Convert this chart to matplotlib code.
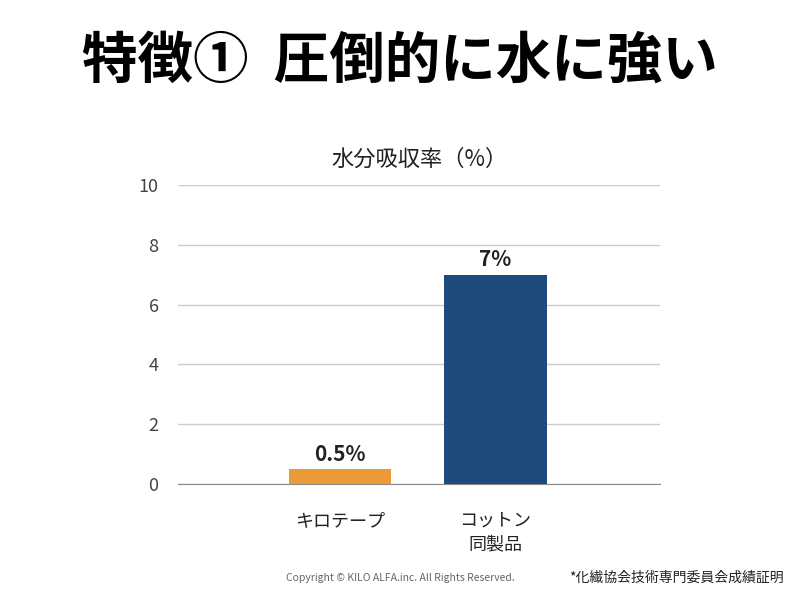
import matplotlib
matplotlib.use('Agg')
import matplotlib.pyplot as plt

plt.rcParams['font.family'] = ['Noto Sans CJK JP', 'DejaVu Sans']

# Data
categories = ['キロテープ', 'コットン\n同製品']
values = [0.5, 7.0]
value_labels = ['0.5%', '7%']
bar_colors = ['#EC9A38', '#1F4A7C']
yticks = [0, 2, 4, 6, 8, 10]

fig = plt.figure(figsize=(8, 6), dpi=100)
fig.text(0.5, 0.898, '特徴①  圧倒的に水に強い', ha='center', va='center',
         fontsize=40, fontweight='bold', color='black')

ax = fig.add_axes([0.2225, 0.1933, 0.6025, 0.4984])
x = list(range(len(categories)))
ax.bar(x, values, width=0.66, color=bar_colors, zorder=3)
for xi, v, lab in zip(x, values, value_labels):
    ax.text(xi, v + 0.15, lab, ha='center', va='bottom', fontsize=15,
            fontweight='bold', color='#222222')

ax.set_xlim(-1.045, 2.06)
ax.set_ylim(0, 10)
ax.set_yticks(yticks)
ax.set_yticklabels([str(t) for t in yticks], fontsize=13, color='#444444')
ax.set_xticks(x)
ax.set_xticklabels(categories, fontsize=13, color='#222222', linespacing=1.4)
ax.tick_params(length=0, pad=14)
ax.tick_params(axis='x', pad=20)
ax.grid(axis='y', color='#cccccc', linewidth=1, zorder=0)
for s in ['top', 'right', 'left']:
    ax.spines[s].set_visible(False)
ax.spines['bottom'].set_color('#888888')
ax.set_title('水分吸収率（%）', fontsize=16, color='#222222', pad=14)

fig.text(0.5, 0.037, 'Copyright © KILO ALFA.inc. All Rights Reserved.', ha='center',
         va='center', fontsize=7.5, color='#666666')
fig.text(0.98, 0.037, '*化繊協会技術専門委員会成績証明', ha='right', va='center',
         fontsize=10, color='#222222')

fig.savefig('out.png', dpi=100)
